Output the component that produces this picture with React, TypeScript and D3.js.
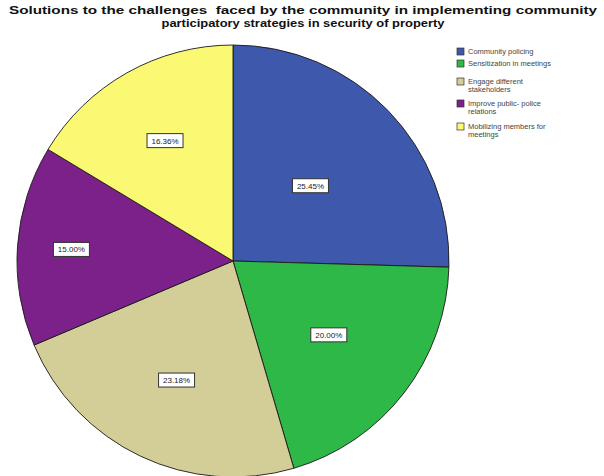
import React from "react";
import * as d3 from "d3";

const categories = [
  "Community policing",
  "Sensitization in meetings",
  "Engage different stakeholders",
  "Improve public- police relations",
  "Mobilizing members for meetings",
];
const legendLines = [
  ["Community policing"],
  ["Sensitization in meetings"],
  ["Engage different", "stakeholders"],
  ["Improve public- police", "relations"],
  ["Mobilizing members for", "meetings"],
];
const values = [25.45, 20.0, 23.18, 15.0, 16.36];
const labels = ["25.45%", "20.00%", "23.18%", "15.00%", "16.36%"];
const colors = ["#3e58ac", "#2eb848", "#d3ce97", "#7b2189", "#fbf873"];
const labelRadiusFrac = [0.5, 0.56, 0.61, 0.75, 0.64];
const titleLines = [
  "Solutions to the challenges  faced by the community in implementing community",
  "participatory strategies in security of property",
];

export default function App() {
  const W = 604, H = 476;
  const cx = 233, cy = 261, r = 216;
  const pie = d3.pie<number>().sort(null).value((d) => d)(values);
  const arc = d3.arc<d3.PieArcDatum<number>>().innerRadius(0).outerRadius(r);
  const legendY = [48, 60, 78, 100, 123];
  const titleLen = [588, 283];
  return (
    <svg width={W} height={H} style={{ position: "absolute", left: 0, top: 0, background: "#fff" }}
      fontFamily="Liberation Sans, Arial, sans-serif">
      {titleLines.map((t, i) => (
        <text key={i} x={303} y={14 + i * 12.5} textAnchor="middle" fontSize={11.5} fontWeight="bold" fill="#111"
          textLength={titleLen[i]} lengthAdjust="spacingAndGlyphs" style={{ whiteSpace: "pre" }}>
          {t}
        </text>
      ))}
      <g transform={`translate(${cx},${cy})`}>
        {pie.map((p, i) => (
          <path key={i} d={arc(p) || ""} fill={colors[i]} stroke="#1a1a1a" strokeWidth={0.9} />
        ))}
        {pie.map((p, i) => {
          const a = (p.startAngle + p.endAngle) / 2;
          const rr = r * labelRadiusFrac[i];
          const x = Math.sin(a) * rr, y = -Math.cos(a) * rr;
          return (
            <g key={"l" + i} transform={`translate(${x},${y})`}>
              <rect x={-18} y={-7} width={36} height={14} fill="#fff" stroke="#333" strokeWidth={1} />
              <text x={0} y={3} textAnchor="middle" fontSize={8} fill="#222">{labels[i]}</text>
            </g>
          );
        })}
      </g>
      {categories.map((c, i) => (
        <g key={c} transform={`translate(457,${legendY[i]})`}>
          <rect x={0} y={0} width={7} height={7} fill={colors[i]} stroke="#333" strokeWidth={0.7} />
          {legendLines[i].map((ln, j) => (
            <text key={j} x={11} y={6 + j * 8} fontSize={7.5} fill="#444">{ln}</text>
          ))}
        </g>
      ))}
    </svg>
  );
}
